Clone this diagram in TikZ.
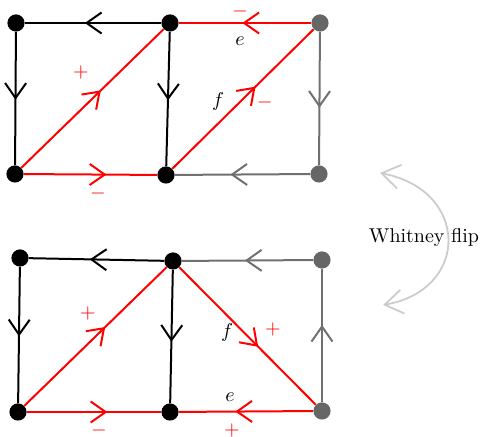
\documentclass[tikz,border=0pt]{standalone}
\usetikzlibrary{arrows.meta,decorations.markings}
\definecolor{vgray}{HTML}{666666}
\definecolor{egray}{HTML}{707070}
\definecolor{lgray}{HTML}{CCCCCC}
\tikzset{
  vtx/.style={circle,fill=black,inner sep=0pt,minimum size=8.6pt},
  gvtx/.style={vtx,fill=vgray},
  edge/.style={line width=1pt},
  marr/.style={postaction={decorate},decoration={markings,mark=at position #1 with {\arrow{Straight Barb[length=7.5pt,width=10.5pt]}}}},
  lbl/.style={inner sep=0pt},
  sgn/.style={red,inner sep=0pt},
  flip/.style={lgray,line width=0.9pt,{Straight Barb[length=9pt,width=12pt]}-{Straight Barb[length=9pt,width=12pt]}},
}
\begin{document}
\begin{tikzpicture}[x=0.5pt,y=-0.5pt]
\useasboundingbox (0,0) rectangle (484,437);
% top graph
\node[vtx] (A1) at (16,23) {};
\node[vtx] (B1) at (170,23) {};
\node[gvtx] (C1) at (320,23) {};
\node[vtx] (D1) at (15,174) {};
\node[vtx] (E1) at (166,175) {};
\node[gvtx] (F1) at (319,174) {};
\draw[edge,marr=0.56] (B1) -- (A1);
\draw[edge,marr=0.51] (A1) -- (D1);
\draw[edge,marr=0.51] (B1) -- (E1);
\draw[edge,red,marr=0.56] (D1) -- (B1);
\draw[edge,red,marr=0.62] (D1) -- (E1);
\draw[edge,red,marr=0.52] (C1) -- (B1);
\draw[edge,red,marr=0.59] (E1) -- (C1);
\draw[edge,egray,marr=0.57] (C1) -- (F1);
\draw[edge,egray,marr=0.59] (F1) -- (E1);
\node[sgn] (s1) at (240,12) {$-$};
\node[lbl] (e1) at (240,41) {$e$};
\node[sgn] (s2) at (81,73) {$+$};
\node[lbl] (f1) at (218,102) {$f$};
\node[sgn] (s3) at (265,103) {$-$};
\node[sgn] (s4) at (98,194) {$-$};
% bottom graph
\node[vtx] (A2) at (20,258) {};
\node[vtx] (B2) at (173,261) {};
\node[gvtx] (C2) at (322,260) {};
\node[vtx] (D2) at (18,412) {};
\node[vtx] (E2) at (170,412) {};
\node[gvtx] (F2) at (322,411) {};
\draw[edge,marr=0.55] (B2) -- (A2);
\draw[edge,marr=0.51] (A2) -- (D2);
\draw[edge,marr=0.54] (B2) -- (E2);
\draw[edge,red,marr=0.57] (D2) -- (B2);
\draw[edge,red,marr=0.6] (D2) -- (E2);
\draw[edge,egray,marr=0.52] (C2) -- (B2);
\draw[edge,red,marr=0.58] (B2) -- (F2);
\draw[edge,red,marr=0.58] (F2) -- (E2);
\draw[edge,egray,marr=0.58] (F2) -- (C2);
\node[sgn] (s5) at (88,314) {$+$};
\node[lbl] (f2) at (227,333) {$f$};
\node[sgn] (s6) at (273,330) {$+$};
\node[lbl] (e2) at (230,397) {$e$};
\node[sgn] (s7) at (232,431) {$+$};
\node[sgn] (s8) at (99,431) {$-$};
% Whitney flip
\coordinate (wt) at (380,173);
\coordinate (wb) at (383,305);
\draw[flip] (wt) .. controls (470,190) and (470,290) .. (wb);
\node[lbl] (wf) at (424,238) {Whitney flip};
\end{tikzpicture}
\end{document}
